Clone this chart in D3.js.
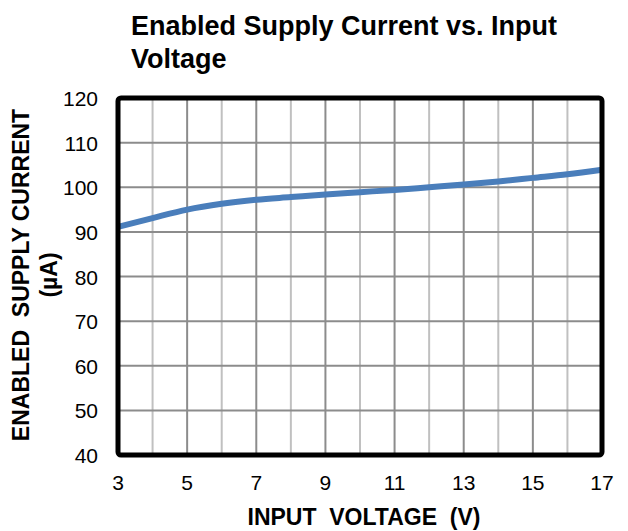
<!DOCTYPE html>
<html>
<head>
<meta charset="utf-8">
<script src="https://cdn.jsdelivr.net/npm/d3@7"></script>
<style>
  body { margin: 0; background: #fff; }
  text { font-family: "Liberation Sans", Arial, sans-serif; fill: #000; }
</style>
</head>
<body>
<div id="chart"></div>
<script>
// input voltage (V) and enabled supply current (uA)
const voltage = [3, 4, 5, 6, 7, 8, 9, 10, 11, 12, 13, 14, 15, 16, 17];
const current = [91.1, 93.1, 95.0, 96.3, 97.2, 97.8, 98.4, 98.9, 99.4, 100.0, 100.6, 101.3, 102.1, 102.9, 103.9];
const xTicks = [3, 5, 7, 9, 11, 13, 15, 17];
const yTicks = [40, 50, 60, 70, 80, 90, 100, 110, 120];

const width = 628, height = 531;
const margin = {top: 98, right: 26, bottom: 76, left: 118};

const svg = d3.select('#chart').append('svg')
  .attr('width', width)
  .attr('height', height);

const x = d3.scaleLinear().domain([3, 17]).range([margin.left, width - margin.right]);
const y = d3.scaleLinear().domain([40, 120]).range([height - margin.bottom, margin.top]);

// grid: light lines on every volt, darker ones on the labelled ticks
const grid = svg.append('g');
grid.selectAll('line.v')
  .data(d3.range(4, 17))
  .enter().append('line')
  .attr('class', 'v')
  .attr('x1', d => x(d)).attr('x2', d => x(d))
  .attr('y1', y(40)).attr('y2', y(120))
  .attr('stroke', d => xTicks.includes(d) ? '#8c8c8c' : '#c0c0c0')
  .attr('stroke-width', 2);
grid.selectAll('line.h')
  .data(yTicks.slice(1, -1))
  .enter().append('line')
  .attr('class', 'h')
  .attr('x1', x(3)).attr('x2', x(17))
  .attr('y1', d => y(d)).attr('y2', d => y(d))
  .attr('stroke', '#8c8c8c')
  .attr('stroke-width', 2);

// data curve
const line = d3.line()
  .x((d, i) => x(voltage[i]))
  .y(d => y(d))
  .curve(d3.curveMonotoneX);
svg.append('path')
  .datum(current)
  .attr('fill', 'none')
  .attr('stroke', '#4a7ebb')
  .attr('stroke-width', 6)
  .attr('d', line);

// frame
svg.append('rect')
  .attr('x', x(3)).attr('y', y(120))
  .attr('width', x(17) - x(3)).attr('height', y(40) - y(120))
  .attr('rx', 3)
  .attr('fill', 'none')
  .attr('stroke', '#000')
  .attr('stroke-width', 5);

// tick labels
svg.append('g').selectAll('text')
  .data(xTicks)
  .enter().append('text')
  .attr('x', d => x(d))
  .attr('y', 490)
  .attr('text-anchor', 'middle')
  .attr('font-size', 21)
  .text(d => d);

svg.append('g').selectAll('text')
  .data(yTicks)
  .enter().append('text')
  .attr('x', 98)
  .attr('y', d => y(d) + 8)
  .attr('text-anchor', 'end')
  .attr('font-size', 21)
  .text(d => d);

// titles
const title = svg.append('text')
  .attr('font-size', 27)
  .attr('font-weight', 'bold');
title.append('tspan').attr('x', 131).attr('y', 35).text('Enabled Supply Current vs. Input');
title.append('tspan').attr('x', 131).attr('y', 68).text('Voltage');

svg.append('text')
  .attr('x', 364)
  .attr('y', 525)
  .attr('text-anchor', 'middle')
  .attr('font-size', 23)
  .attr('font-weight', 'bold')
  .attr('xml:space', 'preserve')
  .text('INPUT  VOLTAGE  (V)');

const yl = svg.append('text')
  .attr('transform', 'translate(0,275) rotate(-90)')
  .attr('text-anchor', 'middle')
  .attr('font-size', 23)
  .attr('font-weight', 'bold')
  .attr('xml:space', 'preserve');
yl.append('tspan').attr('x', 0).attr('y', 29).text('ENABLED  SUPPLY CURRENT');
yl.append('tspan').attr('x', 0).attr('y', 57).text('(µA)');
</script>
</body>
</html>
